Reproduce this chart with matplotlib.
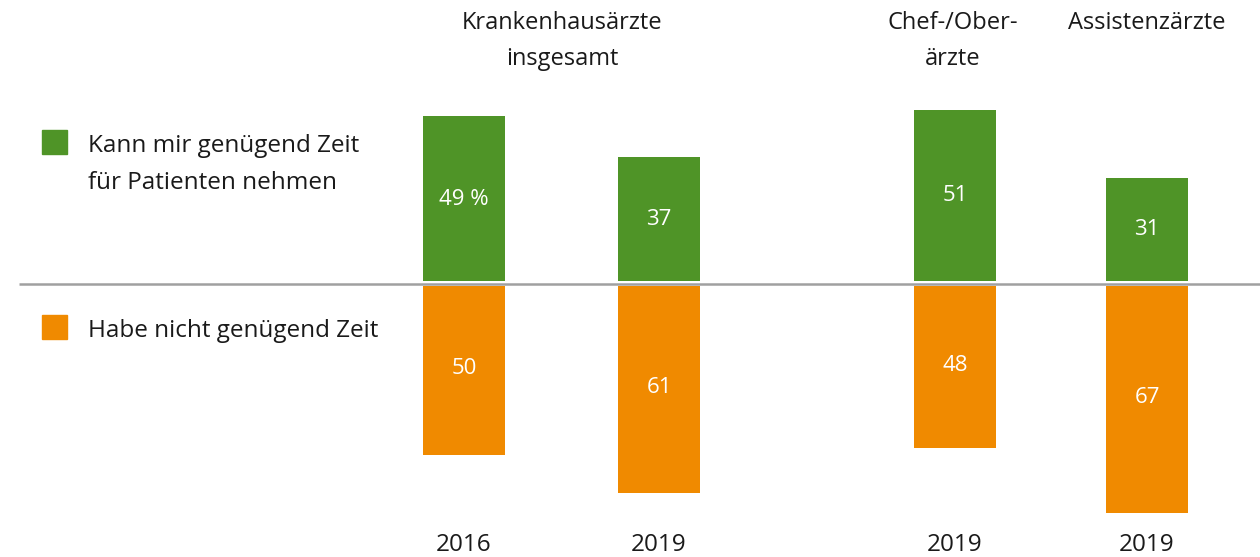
import matplotlib
matplotlib.use("Agg")
import matplotlib.pyplot as plt

plt.rcParams['font.family'] = ['Open Sans', 'DejaVu Sans']

# Data
years = ["2016", "2019", "2019", "2019"]
groups = ["Krankenhausärzte\ninsgesamt", "Chef-/Ober-\närzte", "Assistenzärzte"]
enough_time = [49, 37, 51, 31]
not_enough_time = [50, 61, 48, 67]
value_labels_green = ["49 %", "37", "51", "31"]
value_labels_orange = ["50", "61", "48", "67"]
legend_labels = ["Kann mir genügend Zeit\nfür Patienten nehmen", "Habe nicht genügend Zeit"]

GREEN = "#4f9427"
ORANGE = "#f08a00"
TXT = "#1a1a1a"

W, H = 1260, 557
fig = plt.figure(figsize=(W / 100, H / 100), dpi=100)
ax = fig.add_axes([0, 0, 1, 1])
scale = 3.42  # px per unit
base_px = 284  # baseline from top
ax.set_xlim(0, W)
ax.set_ylim(-(H - base_px) / scale, base_px / scale)
ax.axis("off")

def yd(ypix):
    return (base_px - ypix) / scale

centers = [464, 659, 955, 1147]
width = 82
gap_g = 0.9
gap_o = 0.6

ax.bar(centers, [v - gap_g for v in enough_time], bottom=gap_g, width=width, color=GREEN, zorder=2)
ax.bar(centers, [-(v - gap_o) for v in not_enough_time], bottom=-gap_o, width=width, color=ORANGE, zorder=2)

ax.plot([19, W], [0, 0], color="#a0a0a0", lw=1.8, zorder=1, solid_capstyle="butt")

for c, v, lab in zip(centers, enough_time, value_labels_green):
    ax.text(c, v / 2 + 0.3, lab, color="white", fontsize=16, ha="center", va="center", zorder=3)
for c, v, lab in zip(centers, not_enough_time, value_labels_orange):
    ax.text(c, -v / 2 + 0.3, lab, color="white", fontsize=16, ha="center", va="center", zorder=3)

for c, y in zip(centers, years):
    ax.text(c, yd(545), y, fontsize=17.5, ha="center", va="center", color=TXT)

group_x = [(centers[0] + centers[1]) / 2 + 1, centers[2] - 2, centers[3]]
for gx, g in zip(group_x, groups):
    for i, line in enumerate(g.split("\n")):
        ax.text(gx, yd(23 + 36 * i), line, fontsize=17, ha="center", va="center", color=TXT)

# Legend
ax.add_patch(plt.Rectangle((42, yd(154)), 25, 24 / scale, color=GREEN))
ax.add_patch(plt.Rectangle((42, yd(339)), 25, 24 / scale, color=ORANGE))
for i, line in enumerate(legend_labels[0].split("\n")):
    ax.text(88, yd(146 + 37 * i), line, fontsize=17.5, ha="left", va="center", color=TXT)
ax.text(88, yd(331), legend_labels[1], fontsize=17.5, ha="left", va="center", color=TXT)

fig.savefig("out.png", dpi=100, facecolor="white")
